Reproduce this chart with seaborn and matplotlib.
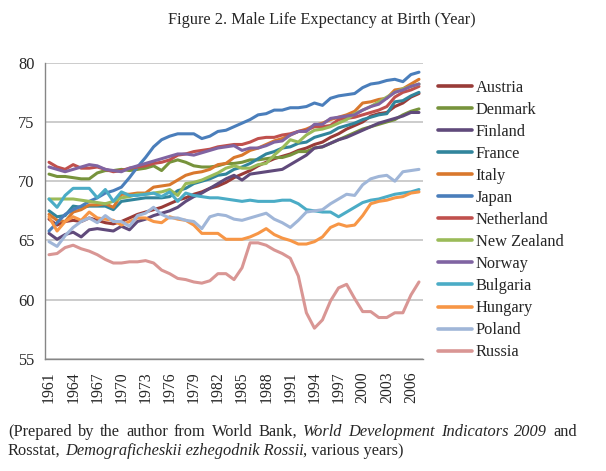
import numpy as np
import pandas as pd
import matplotlib
matplotlib.use("Agg")
import matplotlib.pyplot as plt
import seaborn as sns
from matplotlib.lines import Line2D

years = list(range(1961, 2008))

austria = [66.8, 66.3, 66.6, 66.7, 66.6, 66.9, 66.7, 66.5, 66.4, 66.6,
           66.9, 67.2, 67.4, 67.6, 67.8, 68.1, 68.4, 68.6, 68.9, 69.1,
           69.4, 69.6, 69.9, 70.3, 70.6, 70.9, 71.3, 71.6, 71.9, 72.1,
           72.3, 72.6, 72.8, 73.1, 73.3, 73.7, 74.0, 74.4, 74.7, 75.0,
           75.5, 75.7, 75.8, 76.3, 76.6, 77.1, 77.4]
denmark = [70.6, 70.4, 70.4, 70.3, 70.2, 70.2, 70.7, 70.9, 70.9, 71.0,
           70.9, 71.0, 71.1, 71.3, 70.9, 71.6, 71.8, 71.6, 71.3, 71.2,
           71.2, 71.3, 71.5, 71.5, 71.6, 71.8, 71.8, 71.9, 72.0, 72.0,
           72.2, 72.5, 72.5, 72.8, 72.9, 73.2, 73.5, 73.8, 74.1, 74.4,
           74.6, 74.8, 75.0, 75.2, 75.6, 75.9, 76.1]
finland = [65.6, 65.1, 65.5, 65.7, 65.3, 65.9, 66.0, 65.9, 65.8, 66.2,
           65.9, 66.6, 66.8, 67.1, 67.3, 67.5, 67.8, 68.3, 68.7, 69.0,
           69.4, 69.8, 70.2, 70.5, 70.1, 70.6, 70.7, 70.8, 70.9, 71.0,
           71.4, 71.8, 72.2, 72.8, 72.9, 73.2, 73.5, 73.7, 74.0, 74.3,
           74.6, 74.9, 75.1, 75.3, 75.5, 75.8, 75.8]
france = [67.5, 67.0, 67.1, 67.9, 67.8, 67.9, 67.9, 67.9, 67.6, 68.3,
          68.4, 68.5, 68.6, 68.6, 68.6, 68.7, 69.2, 69.4, 69.8, 70.0,
          70.2, 70.5, 70.6, 71.0, 71.2, 71.5, 71.9, 72.3, 72.5, 72.8,
          72.9, 73.2, 73.3, 73.7, 73.9, 74.1, 74.5, 74.7, 74.9, 75.2,
          75.4, 75.6, 75.7, 76.7, 76.8, 77.2, 77.5]
italy = [67.2, 66.7, 66.6, 67.4, 67.6, 68.0, 68.0, 68.1, 67.8, 68.9,
         68.9, 69.0, 69.0, 69.5, 69.6, 69.7, 70.1, 70.5, 70.7, 70.8,
         71.0, 71.4, 71.5, 72.0, 72.2, 72.6, 72.8, 73.1, 73.4, 73.6,
         73.9, 74.2, 74.4, 74.7, 74.9, 75.2, 75.4, 75.6, 75.9, 76.6,
         76.7, 76.9, 77.0, 77.7, 77.8, 78.2, 78.6]
japan = [65.8, 66.5, 67.2, 67.6, 67.9, 68.3, 68.6, 69.0, 69.2, 69.5,
         70.3, 71.2, 72.0, 72.9, 73.5, 73.8, 74.0, 74.0, 74.0, 73.6,
         73.8, 74.2, 74.3, 74.6, 74.9, 75.2, 75.6, 75.7, 76.0, 76.0,
         76.2, 76.2, 76.3, 76.6, 76.4, 77.0, 77.2, 77.3, 77.4, 77.9,
         78.2, 78.3, 78.5, 78.6, 78.4, 79.0, 79.2]
netherland = [71.6, 71.2, 71.0, 71.4, 71.1, 71.1, 71.2, 71.0, 70.8, 70.9,
              71.1, 71.2, 71.3, 71.5, 71.6, 71.8, 72.2, 72.3, 72.5, 72.6,
              72.7, 72.9, 73.0, 73.1, 73.1, 73.3, 73.6, 73.7, 73.7, 73.9,
              74.0, 74.2, 74.3, 74.6, 74.6, 74.7, 75.2, 75.3, 75.4, 75.6,
              75.8, 76.0, 76.3, 77.1, 77.5, 77.7, 78.0]
new_zealand = [68.5, 68.5, 68.5, 68.5, 68.4, 68.3, 68.2, 68.1, 68.3, 68.6,
               68.7, 68.9, 68.9, 69.0, 69.1, 69.3, 68.8, 69.8, 69.9, 70.1,
               70.4, 70.7, 71.1, 71.3, 71.1, 71.1, 71.4, 71.5, 72.2, 72.8,
               73.5, 73.3, 73.9, 74.3, 74.4, 74.6, 74.9, 75.2, 75.7, 76.0,
               76.3, 76.7, 77.1, 77.5, 77.8, 78.0, 78.2]
norway = [71.2, 71.0, 70.8, 71.0, 71.2, 71.4, 71.3, 71.0, 70.9, 70.8,
          71.1, 71.3, 71.5, 71.7, 71.9, 72.1, 72.3, 72.3, 72.2, 72.4,
          72.6, 72.8, 72.9, 73.0, 72.6, 72.8, 72.8, 73.0, 73.3, 73.4,
          73.9, 74.2, 74.2, 74.8, 74.8, 75.3, 75.4, 75.5, 75.6, 76.0,
          76.3, 76.5, 77.0, 77.5, 77.7, 78.0, 78.2]
bulgaria = [68.5, 67.8, 68.8, 69.4, 69.4, 69.4, 68.6, 69.3, 68.3, 69.1,
            68.8, 68.8, 68.9, 69.0, 68.7, 69.1, 68.3, 69.0, 68.8, 68.7,
            68.6, 68.6, 68.5, 68.4, 68.3, 68.4, 68.3, 68.3, 68.3, 68.4,
            68.4, 68.1, 67.6, 67.5, 67.4, 67.4, 67.0, 67.4, 67.8, 68.2,
            68.4, 68.5, 68.7, 68.9, 69.0, 69.1, 69.3]
hungary = [67.0, 65.8, 66.6, 67.0, 66.7, 67.4, 66.9, 66.8, 66.7, 66.3,
           66.6, 66.9, 66.9, 66.6, 66.5, 67.0, 66.8, 66.7, 66.3, 65.6,
           65.6, 65.6, 65.1, 65.1, 65.1, 65.3, 65.6, 66.0, 65.5, 65.2,
           65.0, 64.7, 64.7, 64.9, 65.3, 66.1, 66.4, 66.2, 66.3, 67.1,
           68.1, 68.3, 68.4, 68.6, 68.7, 69.0, 69.1]
poland = [64.9, 64.5, 65.4, 66.1, 66.6, 66.9, 66.5, 67.1, 66.6, 66.6,
          66.2, 67.1, 67.3, 67.8, 67.2, 66.9, 66.9, 66.7, 66.6, 66.0,
          67.0, 67.2, 67.1, 66.8, 66.7, 66.9, 67.1, 67.3, 66.8, 66.5,
          66.1, 66.7, 67.4, 67.5, 67.6, 68.1, 68.5, 68.9, 68.8, 69.7,
          70.2, 70.4, 70.5, 70.0, 70.8, 70.9, 71.0]
russia = [63.8, 63.9, 64.4, 64.6, 64.3, 64.1, 63.8, 63.4, 63.1, 63.1,
          63.2, 63.2, 63.3, 63.1, 62.5, 62.2, 61.8, 61.7, 61.5, 61.4,
          61.6, 62.2, 62.2, 61.7, 62.7, 64.8, 64.8, 64.6, 64.2, 63.9,
          63.5, 62.0, 58.9, 57.6, 58.3, 59.9, 61.0, 61.3, 60.1, 59.0,
          59.0, 58.5, 58.5, 58.9, 58.9, 60.4, 61.5]

countries = ["Austria", "Denmark", "Finland", "France", "Italy", "Japan",
             "Netherland", "New Zealand", "Norway", "Bulgaria", "Hungary",
             "Poland", "Russia"]
series = [austria, denmark, finland, france, italy, japan, netherland,
          new_zealand, norway, bulgaria, hungary, poland, russia]
colors = ["#993B38", "#77933C", "#604A7B", "#31859C", "#D9782D", "#4A7EBB",
          "#C0504D", "#9BBB59", "#8064A2", "#4BACC6", "#F79646", "#A0B6D8",
          "#D99694"]
y_ticks = [55, 60, 65, 70, 75, 80]
x_label_years = list(range(1961, 2007, 3))

sns.set_style("white")
plt.rcParams['font.family'] = ['Liberation Serif', 'DejaVu Serif']

rows = []
for c, vals in zip(countries, series):
    for yr, v in zip(years, vals):
        rows.append((c, yr, v))
df = pd.DataFrame(rows, columns=["Country", "Year", "Value"])

W, H = 606, 471
fig = plt.figure(figsize=(W / 100, H / 100), dpi=100)
ax = fig.add_axes([45 / W, 1 - 359 / H, (423 - 45) / W, (359 - 62.7) / H])

palette = dict(zip(countries, colors))
sns.lineplot(data=df, x="Year", y="Value", hue="Country", hue_order=countries,
             palette=palette, linewidth=2.2, ax=ax, legend=False)

ax.set_xlim(years[0] - 0.5, years[-1] + 0.5)
ax.set_ylim(55, 80)
ax.set_yticks(y_ticks)
ax.set_yticklabels([str(t) for t in y_ticks], fontsize=11.8)
ax.set_xticks(x_label_years)
ax.set_xticklabels([str(y) for y in x_label_years], rotation=90, fontsize=11.3)
ax.set_xticks(np.arange(years[0] - 0.5, years[-1] + 1.0, 1.0), minor=True)
ax.tick_params(axis='x', which='major', length=0, pad=9)
ax.tick_params(axis='x', which='minor', length=3.3, width=0.8, color='#868686', direction='out')
ax.tick_params(axis='y', which='major', length=3.5, width=0.8, color='#868686', direction='out', pad=4)
ax.set_xlabel("")
ax.set_ylabel("")
ax.yaxis.grid(True, color='#BEBEBE', linewidth=1.1)
ax.xaxis.grid(False)
ax.set_axisbelow(True)
for s in ['top', 'right']:
    ax.spines[s].set_visible(False)
for s in ['left', 'bottom']:
    ax.spines[s].set_color('#868686')
    ax.spines[s].set_linewidth(1.0)

handles = [Line2D([0], [0], color=col, lw=2.6) for col in colors]
fig.legend(handles, countries, loc='center left', bbox_to_anchor=(438 / W, 1 - 220 / H),
           frameon=False, fontsize=11.8, handlelength=2.1, handletextpad=0.2,
           labelspacing=0.37, borderpad=0, borderaxespad=0)

fig.text(322 / W, 1 - 20 / H, "Figure 2. Male Life Expectancy at Birth (Year)",
         ha='center', va='center', fontsize=11.8)

# caption
renderer = fig.canvas.get_renderer()
fs = 11.8
def width_of(s, style):
    t = fig.text(0, 0, s, fontsize=fs, style=style)
    w = t.get_window_extent(renderer=renderer).width
    t.remove()
    return w

line1 = [("(Prepared", 'normal'), ("by", 'normal'), ("the", 'normal'), ("author", 'normal'),
         ("from", 'normal'), ("World", 'normal'), ("Bank,", 'normal'), ("World", 'italic'),
         ("Development", 'italic'), ("Indicators", 'italic'), ("2009", 'italic'), ("and", 'normal')]
x0, x1 = 8, 577
widths = [width_of(w, st) for w, st in line1]
gap = (x1 - x0 - sum(widths)) / (len(line1) - 1)
x = x0
y1 = 1 - 432 / H
for (w, st), wd in zip(line1, widths):
    fig.text(x / W, y1, w, fontsize=fs, style=st, va='center', ha='left')
    x += wd + gap

space = width_of("a a", 'normal') - width_of("aa", 'normal')
line2 = [("Rosstat,", 'normal', True), ("Demograficheskii ezhegodnik Rossii", 'italic', False),
         (", various years)", 'normal', False)]
x = x0
y2 = 1 - 451 / H
for s, st, sp in line2:
    fig.text(x / W, y2, s, fontsize=fs, style=st, va='center', ha='left')
    x += width_of(s, st) + (space if sp else 0)

fig.savefig("out.png", dpi=100)
